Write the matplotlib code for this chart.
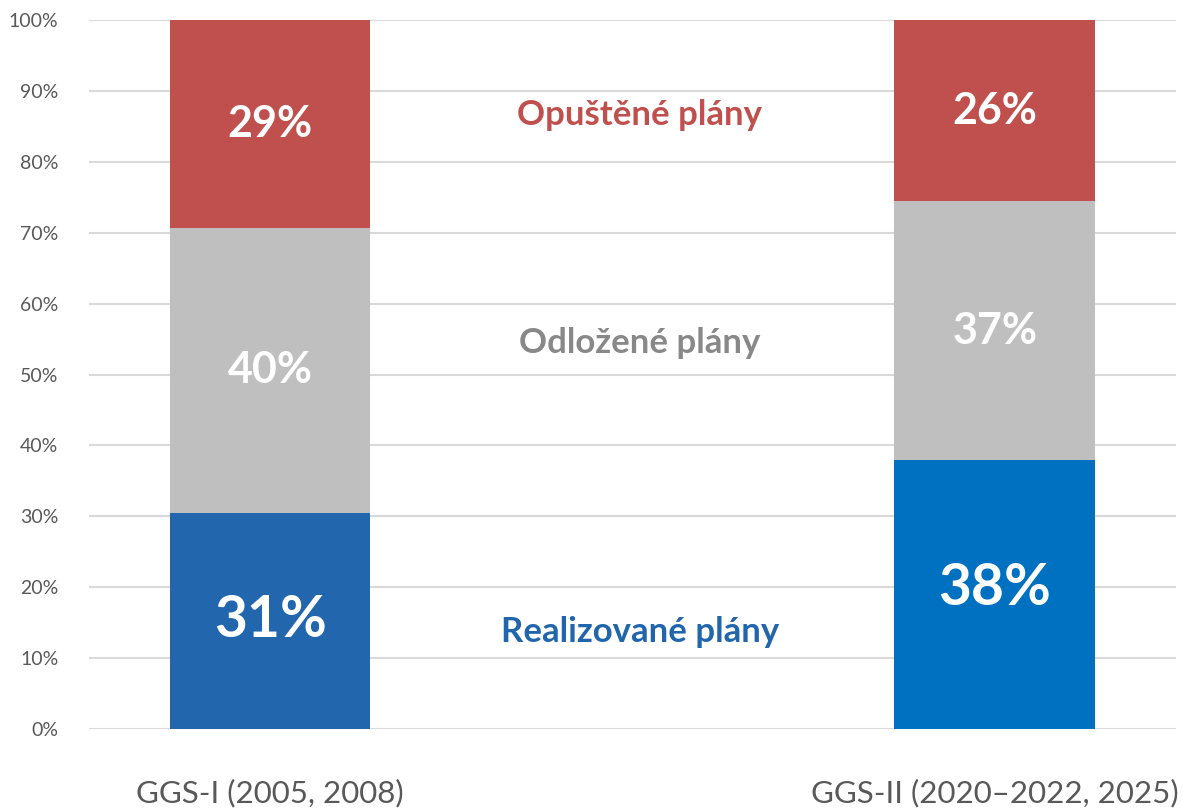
import matplotlib
matplotlib.use("Agg")
import matplotlib.pyplot as plt
import numpy as np

categories = ["GGS-I (2005, 2008)", "GGS-II (2020–2022, 2025)"]
realized = [30.5, 37.9]
postponed = [40.2, 36.6]
abandoned = [29.3, 25.5]
realized_lbl = ["31%", "38%"]
postponed_lbl = ["40%", "37%"]
abandoned_lbl = ["29%", "26%"]
series_names = ["Realizované plány", "Odložené plány", "Opuštěné plány"]
yticks = [0, 10, 20, 30, 40, 50, 60, 70, 80, 90, 100]

plt.rcParams['font.family'] = ['Lato', 'DejaVu Sans']

fig = plt.figure(figsize=(11.83, 8.08), dpi=100)
ax = fig.add_axes([0.0752, 0.0978, 0.9188, 0.8772])

x = np.arange(len(categories))
w = 0.277
blue_cols = ["#2266AE", "#0070C0"]
red = "#C0504D"
gray = "#BFBFBF"

r = np.array(realized); p = np.array(postponed); a = np.array(abandoned)
ax.bar(x, r, w, color=blue_cols, zorder=3)
ax.bar(x, p, w, bottom=r, color=gray, zorder=3)
ax.bar(x, a, w, bottom=r + p, color=red, zorder=3)

for i in range(len(x)):
    ax.text(x[i], r[i] / 2 - (0 if i == 0 else -0.8), realized_lbl[i], ha='center', va='center',
            color='white', fontsize=41, fontweight='bold', zorder=4)
    ax.text(x[i], r[i] + p[i] / 2, postponed_lbl[i], ha='center', va='center',
            color='white', fontsize=31, fontweight='bold', zorder=4)
    ax.text(x[i], r[i] + p[i] + a[i] / 2, abandoned_lbl[i], ha='center', va='center',
            color='white', fontsize=31, fontweight='bold', zorder=4)

xm = 0.51
ax.text(xm, 86.6, series_names[2], ha='center', va='center', color=red,
        fontsize=25, fontweight='bold')
ax.text(xm, 54.4, series_names[1], ha='center', va='center', color='#888888',
        fontsize=25, fontweight='bold')
ax.text(xm, 13.7, series_names[0], ha='center', va='center', color='#2166AD',
        fontsize=25, fontweight='bold')

ax.set_xlim(-0.25, 1.25)
ax.set_ylim(0, 100)
ax.set_yticks(yticks)
ax.set_yticklabels([f"{t}%" for t in yticks])
ax.set_xticks(x)
ax.set_xticklabels(categories)
ax.tick_params(axis='y', length=0, labelsize=14, labelcolor='#595959', pad=22)
ax.tick_params(axis='x', length=0, labelsize=22.5, labelcolor='#595959', pad=36)
labels = ax.get_xticklabels()
labels[1].set_x(0.985)
ax.grid(axis='y', color='#D9D9D9', linewidth=1.5, zorder=0)
for s in ax.spines.values():
    s.set_visible(False)

fig.savefig("out.png", dpi=100)
